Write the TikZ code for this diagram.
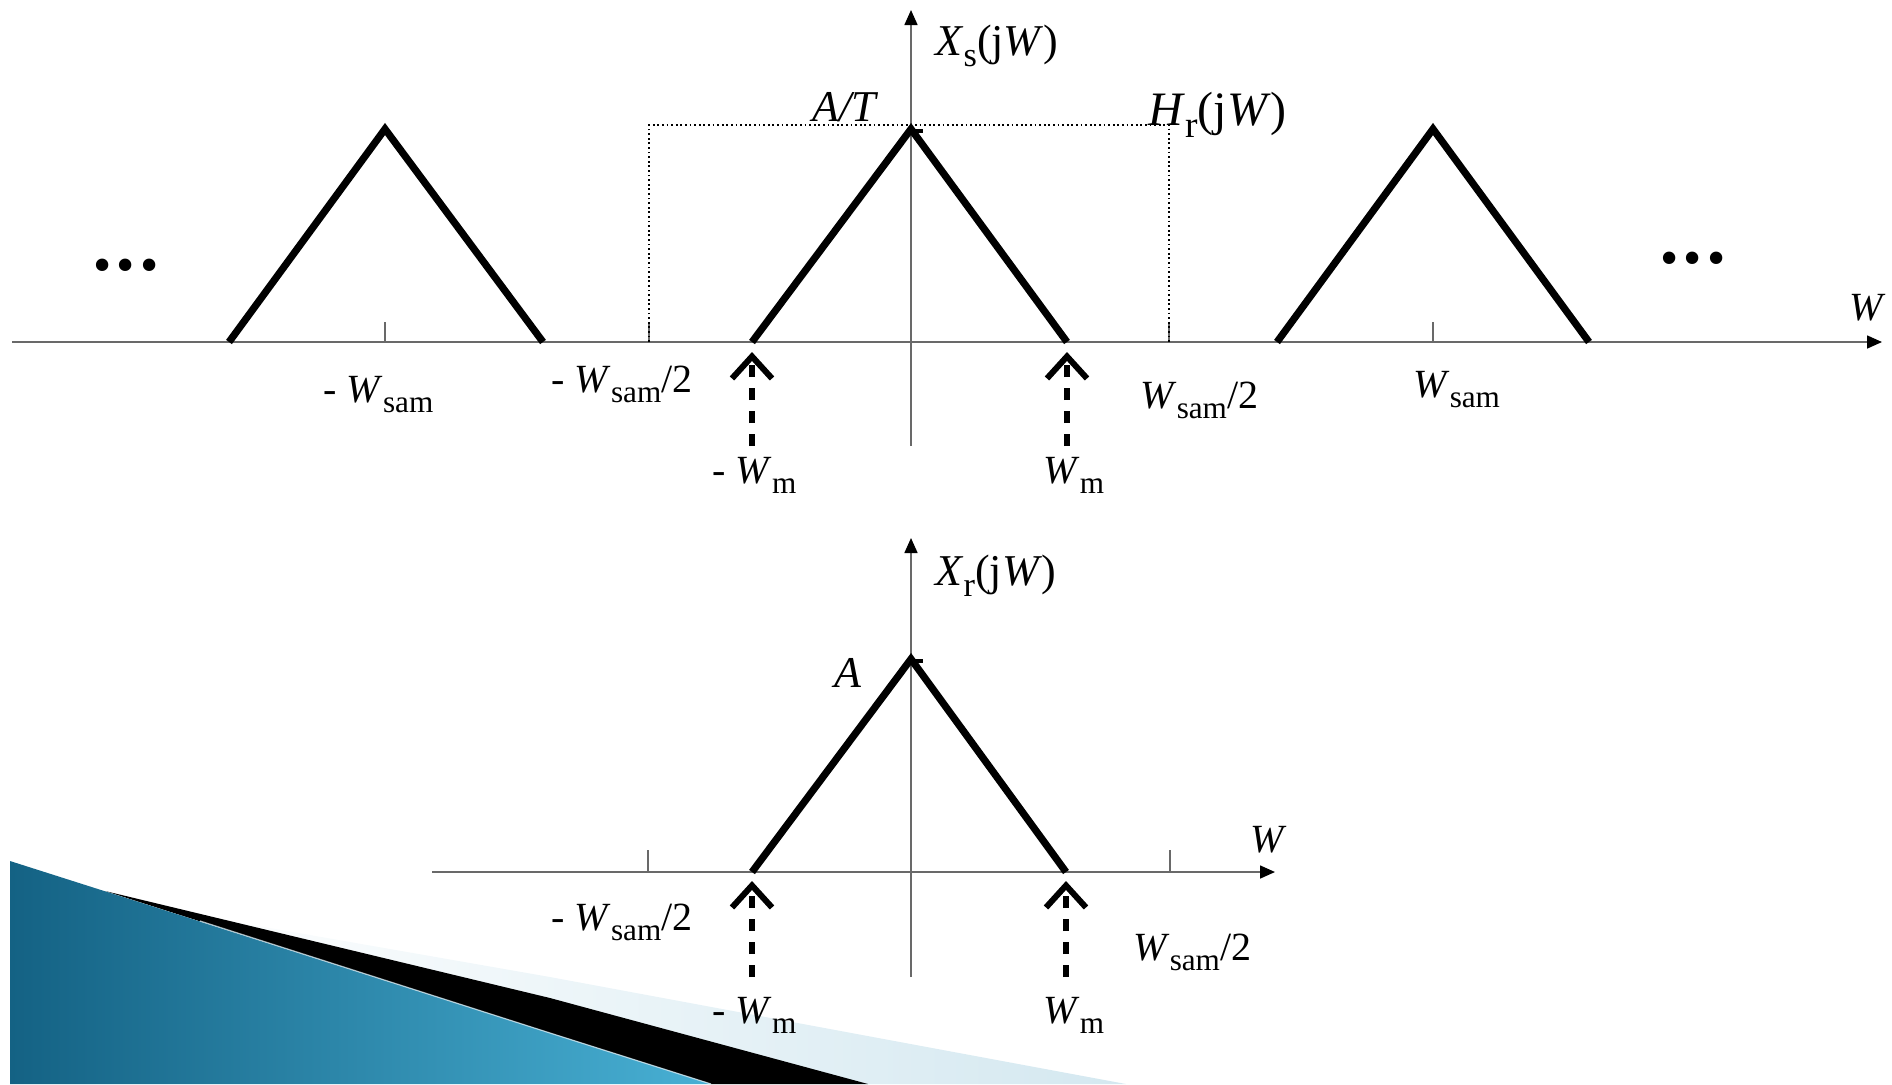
\documentclass[tikz,border=0pt]{standalone}
\usepackage{fontspec}
\setmainfont{Liberation Serif}
\usetikzlibrary{arrows.meta}
\definecolor{wedgedark}{RGB}{20,98,132}
\definecolor{wedgelight}{RGB}{72,176,212}
\definecolor{wedgepale}{RGB}{212,232,240}
\definecolor{axisgray}{RGB}{105,105,105}
\newcommand{\lsub}[1]{\raisebox{-0.27em}{\scalebox{0.78}{#1}}}

\begin{document}
\begin{tikzpicture}[x=0.5pt, y=-0.5pt,
axis/.style={draw=axisgray, line width=0.8pt, -{Triangle[length=7.5pt, width=6.5pt, color=black]}},
tick/.style={draw=axisgray, line width=0.6pt},
spec/.style={line width=3.6pt},
filt/.style={line width=0.9pt, dash pattern=on 0.9pt off 1.4pt},
wmark/.style={line width=3pt, dash pattern=on 6pt off 5.5pt, -{Straight Barb[length=11pt, width=20pt]}},
lbl/.style={inner sep=0pt, anchor=base west, font=\fontsize{20}{24}\selectfont},
fnlbl/.style={lbl, font=\fontsize{22}{26}\selectfont}]
\useasboundingbox (0,0) rectangle (1892,1084);

% slide corner
\shade[left color=white, right color=wedgepale] (150,907) -- (550,977) -- (1126,1084) -- (700,1084) -- cycle;
\fill[black] (105,891) -- (550,998) -- (868,1084) -- (711,1084) -- (550,1033) -- cycle;
\shade[left color=wedgedark, right color=wedgelight] (10,861) -- (550,1033) -- (711,1084) -- (10,1084) -- cycle;
\draw[wedgepale, line width=0.6pt, opacity=0.8] (200,921) -- (550,1033) -- (711,1084);

% sampled spectrum
\coordinate (tl) at (12,342);
\coordinate (tr) at (1882,342);
\coordinate (tb) at (911,446);
\coordinate (tt) at (911,10);
\draw[axis] (tl) -- (tr);
\draw[axis] (tb) -- (tt);
\draw[tick] (385,322) -- (385,342);
\draw[tick] (1433,322) -- (1433,342);
\draw[tick] (649,322) -- (649,342);
\draw[tick] (1169,322) -- (1169,342);
\draw[filt] (649,342) -- (649,125) -- (1169,125) -- (1169,342);
\draw[spec] (229,342) -- (385,129) -- (543,342);
\draw[spec] (752,342) -- (911,129) -- (1067,342);
\draw[spec] (1277,342) -- (1433,129) -- (1589,342);
\draw[line width=2pt] (909,131) -- (923,131);
\draw[wmark] (752,446) -- (752,352);
\draw[wmark] (1067,446) -- (1067,352);

\node[fnlbl] (xs) at (935,55) {\textit{X}\lsub{s}(j\textit{W})};
\node[fnlbl, anchor=base east] (at) at (879,121) {\textit{A/T}};
\node[fnlbl, font=\fontsize{24}{28}\selectfont] (hr) at (1148,125) {\textit{H}\lsub{r}(j\textit{W})};
\node[lbl, anchor=center, font=\fontsize{26}{30}\selectfont] (dl) at (126,271) {•\hspace{2.5pt}•\hspace{2.5pt}•};
\node[lbl, anchor=center, font=\fontsize{26}{30}\selectfont] (dr) at (1693,264) {•\hspace{2.5pt}•\hspace{2.5pt}•};
\node[lbl] (w1) at (1849,320) {\textit{W}};
\node[lbl] (s1) at (323,402) {- \textit{W}\lsub{sam}};
\node[lbl] (h1) at (551,392) {- \textit{W}\lsub{sam}/2};
\node[lbl] (h2) at (1140,408) {\textit{W}\lsub{sam}/2};
\node[lbl] (s2) at (1413,397) {\textit{W}\lsub{sam}};
\node[lbl] (m1) at (712,483) {- \textit{W}\lsub{m}};
\node[lbl] (m2) at (1043,483) {\textit{W}\lsub{m}};

% reconstructed spectrum
\coordinate (bl) at (432,872);
\coordinate (br) at (1275,872);
\coordinate (bb) at (911,977);
\coordinate (bt) at (911,538);
\draw[axis] (bl) -- (br);
\draw[axis] (bb) -- (bt);
\draw[tick] (648,850) -- (648,872);
\draw[tick] (1170,850) -- (1170,872);
\draw[spec] (752,872) -- (911,659) -- (1066,872);
\draw[line width=2pt] (909,661) -- (923,661);
\draw[wmark] (752,977) -- (752,881);
\draw[wmark] (1066,977) -- (1066,881);

\node[fnlbl] (xr) at (935,585) {\textit{X}\lsub{r}(j\textit{W})};
\node[fnlbl, anchor=base east] (a) at (862,687) {\textit{A}};
\node[lbl] (w2) at (1250,852) {\textit{W}};
\node[lbl] (h3) at (551,930) {- \textit{W}\lsub{sam}/2};
\node[lbl] (h4) at (1133,960) {\textit{W}\lsub{sam}/2};
\node[lbl] (m3) at (712,1023) {- \textit{W}\lsub{m}};
\node[lbl] (m4) at (1043,1023) {\textit{W}\lsub{m}};
\end{tikzpicture}
\end{document}
